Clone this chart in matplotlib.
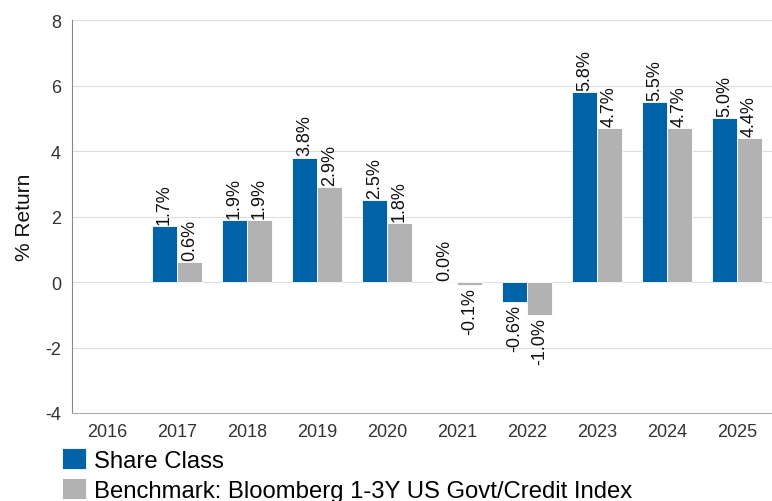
import numpy as np
import matplotlib
matplotlib.use("Agg")
import matplotlib.pyplot as plt

years = ["2016", "2017", "2018", "2019", "2020", "2021", "2022", "2023", "2024", "2025"]
share_class = [np.nan, 1.7, 1.9, 3.8, 2.5, 0.0, -0.6, 5.8, 5.5, 5.0]
benchmark = [np.nan, 0.6, 1.9, 2.9, 1.8, -0.1, -1.0, 4.7, 4.7, 4.4]
series_names = ["Share Class", "Benchmark: Bloomberg 1-3Y US Govt/Credit Index"]

blue = "#0063A8"
grey = "#B2B2B2"

plt.rcParams["font.family"] = ["Liberation Sans", "DejaVu Sans"]
plt.rcParams["axes.unicode_minus"] = False

fig = plt.figure(figsize=(7.72, 5.02), dpi=100)
ax = fig.add_axes([72 / 772, 1 - 414 / 502, 700 / 772, 393 / 502])

x = np.arange(len(years))
w = 0.357
b1 = ax.bar(x - w / 2, share_class, w, color=blue, edgecolor="white", linewidth=0.6,
            label=series_names[0], zorder=3)
b2 = ax.bar(x + w / 2, benchmark, w, color=grey, edgecolor="white", linewidth=0.6,
            label=series_names[1], zorder=3)

# value labels, rotated, above positive bars and below negative ones
for bars, vals in ((b1, share_class), (b2, benchmark)):
    for rect, v in zip(bars, vals):
        if np.isnan(v):
            continue
        cx = rect.get_x() + rect.get_width() / 2
        if v >= 0:
            ax.annotate("%.1f%%" % v, (cx, v), xytext=(0, 1.5), textcoords="offset points",
                        rotation=90, ha="center", va="bottom", fontsize=13, color="#111111")
        else:
            ax.annotate("%.1f%%" % v, (cx, v), xytext=(0, -1.5), textcoords="offset points",
                        rotation=90, ha="center", va="top", fontsize=13, color="#111111")

ax.set_xlim(-0.5, len(years) - 0.5)
ax.set_ylim(-4, 8)
ax.set_yticks([-4, -2, 0, 2, 4, 6, 8])
ax.set_xticks(x)
ax.set_xticklabels(years)
ax.tick_params(axis="both", length=0, labelsize=13, labelcolor="#333333")
ax.tick_params(axis="y", pad=8)
ax.tick_params(axis="x", pad=7)
ax.grid(axis="y", color="#DDDDDD", linewidth=0.8, zorder=0)
for s in ("top", "right"):
    ax.spines[s].set_visible(False)
ax.spines["left"].set_color("#888888")
ax.spines["bottom"].set_color("#AAAAAA")
ax.set_ylabel("% Return", fontsize=15, color="#111111", labelpad=8)

fig.legend(handles=[b1, b2], labels=series_names, loc="upper left",
           bbox_to_anchor=(62 / 772, 1 - 449 / 502), frameon=False, fontsize=17.2,
           handlelength=1.0, handleheight=1.0, handletextpad=0.35, labelspacing=0.25,
           borderpad=0, borderaxespad=0)

fig.savefig("out.png", dpi=100)
